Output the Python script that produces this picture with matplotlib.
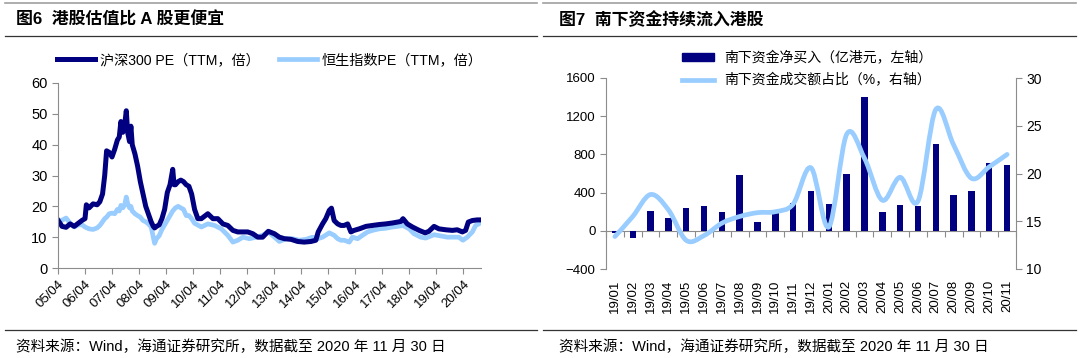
import numpy as np
import matplotlib
matplotlib.use('Agg')
import matplotlib.pyplot as plt
from matplotlib.lines import Line2D
from matplotlib.patches import PathPatch, Patch
from matplotlib.path import Path

plt.rcParams['font.family'] = ['Liberation Sans', 'Noto Sans CJK SC']

NAVY = '#000080'
LIGHT = '#99CCFF'
GRAY = '#8C8C8C'

# ---- 图6: PE (TTM), time in decimal years ----
hs300_t = [2005.25, 2005.4, 2005.55, 2005.7, 2005.85, 2006.0, 2006.15, 2006.25, 2006.3, 2006.4,
           2006.55, 2006.7, 2006.8, 2006.9, 2006.98, 2007.05, 2007.15, 2007.25, 2007.35, 2007.45,
           2007.52, 2007.58, 2007.65, 2007.72, 2007.78, 2007.83, 2007.9, 2007.95, 2008.0, 2008.1,
           2008.2, 2008.3, 2008.4, 2008.5, 2008.6, 2008.7, 2008.78, 2008.83, 2008.9, 2009.0,
           2009.1, 2009.2, 2009.3, 2009.4, 2009.5, 2009.55, 2009.6, 2009.7, 2009.8, 2009.9,
           2010.0, 2010.1, 2010.2, 2010.31, 2010.43, 2010.56, 2010.8, 2010.99, 2011.17, 2011.36,
           2011.54, 2011.73, 2011.91, 2012.1, 2012.28, 2012.47, 2012.65, 2012.83, 2013.04, 2013.27,
           2013.45, 2013.64, 2013.88, 2014.13, 2014.37, 2014.62, 2014.8, 2014.89, 2015.05, 2015.17,
           2015.3, 2015.38, 2015.48, 2015.61, 2015.73, 2015.85, 2015.98, 2016.1, 2016.22, 2016.41,
           2016.66, 2016.9, 2017.15, 2017.39, 2017.64, 2017.83, 2017.95, 2018.03, 2018.19, 2018.38,
           2018.63, 2018.85, 2018.99, 2019.18, 2019.36, 2019.61, 2019.86, 2020.04, 2020.23, 2020.35,
           2020.45, 2020.6, 2020.78, 2020.9]
hs300_pe = [15.5, 13.5, 13.2, 14.3, 13.5, 14.5, 15.5, 16.0, 20.5, 19.5,
            20.8, 20.5, 21.5, 24.0, 30.0, 38.0, 37.5, 36.0, 38.5, 41.5,
            42.5, 47.5, 44.0, 46.5, 51.0, 44.0, 41.0, 46.0, 40.0, 37.0,
            33.0, 28.0, 24.0, 20.0, 17.5, 15.0, 13.5, 13.0, 13.5, 14.0,
            16.0, 19.0, 24.5, 27.0, 32.0, 27.0, 27.0, 28.0, 28.5, 28.0,
            27.0, 26.5, 24.0, 19.0, 16.0, 16.0, 17.6, 16.0, 16.0, 14.3,
            13.8, 12.2, 11.7, 11.7, 11.7, 11.1, 10.0, 10.0, 11.9, 11.1,
            10.0, 9.5, 9.3, 8.6, 8.4, 8.6, 9.0, 11.7, 14.3, 16.0,
            18.7, 19.4, 15.4, 14.3, 13.8, 13.8, 14.3, 11.7, 12.2, 12.7,
            13.5, 13.8, 14.1, 14.3, 14.6, 14.9, 15.1, 16.0, 14.3, 13.3,
            12.2, 11.4, 11.9, 13.5, 12.7, 12.4, 12.2, 12.4, 11.7, 12.2,
            14.9, 15.4, 15.6, 15.6]

hsi_t = [2005.25, 2005.4, 2005.55, 2005.7, 2005.85, 2006.0, 2006.15, 2006.25, 2006.4, 2006.55,
         2006.7, 2006.8, 2006.9, 2006.98, 2007.05, 2007.15, 2007.25, 2007.35, 2007.45, 2007.52,
         2007.58, 2007.65, 2007.72, 2007.78, 2007.83, 2007.9, 2007.95, 2008.0, 2008.1, 2008.2,
         2008.3, 2008.4, 2008.5, 2008.6, 2008.7, 2008.78, 2008.83, 2008.9, 2009.0, 2009.1,
         2009.2, 2009.3, 2009.4, 2009.5, 2009.6, 2009.7, 2009.8, 2009.9, 2010.0, 2010.1,
         2010.2, 2010.31, 2010.56, 2010.8, 2011.05, 2011.3, 2011.54, 2011.73, 2011.91, 2012.1,
         2012.34, 2012.59, 2012.83, 2013.04, 2013.27, 2013.45, 2013.7, 2013.94, 2014.19, 2014.44,
         2014.68, 2014.87, 2015.05, 2015.3, 2015.48, 2015.61, 2015.73, 2015.85, 2016.04, 2016.16,
         2016.35, 2016.53, 2016.72, 2016.9, 2017.15, 2017.39, 2017.64, 2017.83, 2018.03, 2018.26,
         2018.44, 2018.69, 2018.87, 2019.18, 2019.43, 2019.67, 2019.92, 2020.1, 2020.25, 2020.41,
         2020.6, 2020.72, 2020.84, 2020.94]
hsi_pe = [15.2, 15.5, 16.2, 14.5, 13.3, 14.0, 14.0, 13.3, 12.7, 12.5,
          13.0, 13.8, 15.0, 16.0, 16.5, 17.6, 17.8, 17.6, 19.0, 18.5,
          20.3, 19.5, 20.5, 23.0, 21.0, 19.5, 20.0, 18.5, 17.6, 17.0,
          16.5, 15.4, 15.0, 14.3, 13.3, 10.0, 8.0, 9.5, 10.5, 12.5,
          14.0, 15.5, 17.0, 18.5, 19.5, 20.0, 19.5, 19.0, 17.0, 17.0,
          16.0, 14.5, 13.3, 14.3, 13.8, 12.7, 10.6, 8.4, 9.0, 10.0,
          9.5, 10.0, 10.6, 11.7, 10.0, 8.6, 9.5, 9.5, 9.0, 9.3,
          10.0, 9.5, 10.0, 11.4, 10.6, 9.5, 9.0, 9.0, 8.4, 10.0,
          9.5, 10.6, 11.7, 12.2, 12.7, 12.9, 13.3, 13.5, 13.8, 12.7,
          11.1, 10.0, 9.7, 10.8, 10.4, 10.0, 10.0, 10.0, 9.0, 10.0,
          11.7, 13.8, 14.3, 15.1]

year_labels = ['05/04', '06/04', '07/04', '08/04', '09/04', '10/04', '11/04', '12/04',
               '13/04', '14/04', '15/04', '16/04', '17/04', '18/04', '19/04', '20/04']

# ---- 图7: southbound flows ----
months = ['19/01', '19/02', '19/03', '19/04', '19/05', '19/06', '19/07', '19/08', '19/09',
          '19/10', '19/11', '19/12', '20/01', '20/02', '20/03', '20/04', '20/05', '20/06',
          '20/07', '20/08', '20/09', '20/10', '20/11']
net_buy = [-28, -78, 209, 130, 234, 258, 200, 582, 94, 200, 286, 419,
           280, 600, 1400, 192, 269, 255, 904, 375, 412, 705, 691]
share = [13.4, 15.5, 17.8, 16.2, 13.0, 13.5, 14.8, 15.5, 15.9, 16.0, 16.8, 20.6,
         14.4, 24.1, 21.6, 17.2, 19.6, 17.1, 26.7, 23.0, 19.5, 20.7, 22.0]


def smooth_path(x, y):
    # Excel-style smoothed line (Catmull-Rom as cubic Bezier)
    x = np.asarray(x, float)
    y = np.asarray(y, float)
    n = len(x)
    verts = [(x[0], y[0])]
    codes = [Path.MOVETO]
    for i in range(n - 1):
        xp, yp = (x[i - 1], y[i - 1]) if i > 0 else (x[i], y[i])
        xn, yn = (x[i + 2], y[i + 2]) if i + 2 < n else (x[i + 1], y[i + 1])
        c1 = (x[i] + (x[i + 1] - xp) / 6, y[i] + (y[i + 1] - yp) / 6)
        c2 = (x[i + 1] - (xn - x[i]) / 6, y[i + 1] - (yn - y[i]) / 6)
        verts += [c1, c2, (x[i + 1], y[i + 1])]
        codes += [Path.CURVE4] * 3
    return Path(verts, codes)


W, H = 1080, 358
fig = plt.figure(figsize=(W / 100, H / 100), dpi=100)


def fx(px):
    return px / W


def fy(py):
    return 1 - py / H


# frame lines and texts
for x0, x1 in [(5, 537), (543, 1076)]:
    fig.add_artist(Line2D([fx(x0), fx(x1)], [fy(3), fy(3)], color='#A0A0A0', lw=1.2))
    fig.add_artist(Line2D([fx(x0), fx(x1)], [fy(36), fy(36)], color='#333333', lw=0.9))
    fig.add_artist(Line2D([fx(x0), fx(x1)], [fy(330), fy(330)], color='#333333', lw=0.9))

fig.text(fx(16), fy(20), '图6  港股估值比 A 股更便宜', fontsize=12.2, fontweight='bold',
         va='center', ha='left')
fig.text(fx(559), fy(20), '图7  南下资金持续流入港股', fontsize=12.2, fontweight='bold',
         va='center', ha='left')
src = '资料来源：Wind，海通证券研究所，数据截至 2020 年 11 月 30 日'
fig.text(fx(16), fy(347), src, fontsize=10.5, va='center', ha='left')
fig.text(fx(559), fy(347), src, fontsize=10.5, va='center', ha='left')

# ---- left chart ----
ax = fig.add_axes([fx(58), fy(268), fx(481 - 58), fy(83) - fy(268)])
l2, = ax.plot(hsi_t, hsi_pe, color=LIGHT, lw=3.4, solid_joinstyle='round')
l1, = ax.plot(hs300_t, hs300_pe, color=NAVY, lw=3.6, solid_joinstyle='round')
ax.set_ylim(0, 60)
ax.set_yticks(range(0, 61, 10))
ax.set_xlim(2005.25, 2020.92)
ax.set_xticks([2005.25 + i for i in range(len(year_labels))])
ax.set_xticklabels(year_labels, rotation=45, ha='right', rotation_mode='anchor')
for s in ['top', 'right']:
    ax.spines[s].set_visible(False)
for s in ['left', 'bottom']:
    ax.spines[s].set_color(GRAY)
ax.tick_params(axis='both', direction='out', length=4, color=GRAY, labelsize=10.5)
ax.tick_params(axis='x', labelsize=9.5, pad=3)

fig.legend([l1, l2], ['沪深300 PE（TTM，倍）', '恒生指数PE（TTM，倍）'],
           loc='center left', bbox_to_anchor=(fx(57), fy(60)), ncol=2, frameon=False,
           fontsize=10.2, handlelength=2.7, handletextpad=0.3, columnspacing=1.4,
           borderpad=0, borderaxespad=0)

# ---- right chart ----
bx = fig.add_axes([fx(606), fy(269), fx(1016 - 606), fy(78) - fy(269)])
pos = np.arange(len(months))
bx.bar(pos, net_buy, width=0.36, color=NAVY, zorder=2)
ymin, ymax = -400, 1600
bx.set_ylim(ymin, ymax)
bx.set_yticks(range(-400, 1601, 400))
bx.set_xlim(-0.5, len(months) - 0.5)
bx.set_xticks(pos)
bx.set_xticklabels(months, rotation=90)
bx.tick_params(axis='x', length=0, pad=8, labelsize=9.5)
bx.tick_params(axis='y', direction='out', length=4, color=GRAY, labelsize=9.5)
for s in ['top', 'right', 'bottom']:
    bx.spines[s].set_visible(False)
bx.spines['left'].set_color(GRAY)

zero = bx.secondary_xaxis((0 - ymin) / (ymax - ymin))
zero.set_xticks(np.arange(len(months) + 1) - 0.5)
zero.set_xticklabels([])
zero.tick_params(direction='out', length=4, color=GRAY)
zero.spines['bottom'].set_color(GRAY)

bx2 = bx.twinx()
bx2.set_ylim(10, 30)
bx2.set_yticks(range(10, 31, 5))
line_patch = PathPatch(smooth_path(pos, share), fill=False, ec=LIGHT, lw=3.4,
                       capstyle='round', joinstyle='round', zorder=3)
bx2.add_patch(line_patch)
for s in ['top', 'left', 'bottom']:
    bx2.spines[s].set_visible(False)
bx2.spines['right'].set_color(GRAY)
bx2.tick_params(axis='y', direction='out', length=4, color=GRAY, labelsize=10)

fig.legend([Patch(color=NAVY), Line2D([], [], color=LIGHT, lw=3.4)],
           ['南下资金净买入（亿港元，左轴）', '南下资金成交额占比（%，右轴）'],
           loc='center left', bbox_to_anchor=(fx(682), fy(69)), frameon=False,
           fontsize=10, handlelength=2.3, handleheight=0.6, handletextpad=0.75,
           labelspacing=0.6, borderpad=0, borderaxespad=0)

fig.savefig('out.png', dpi=100)
